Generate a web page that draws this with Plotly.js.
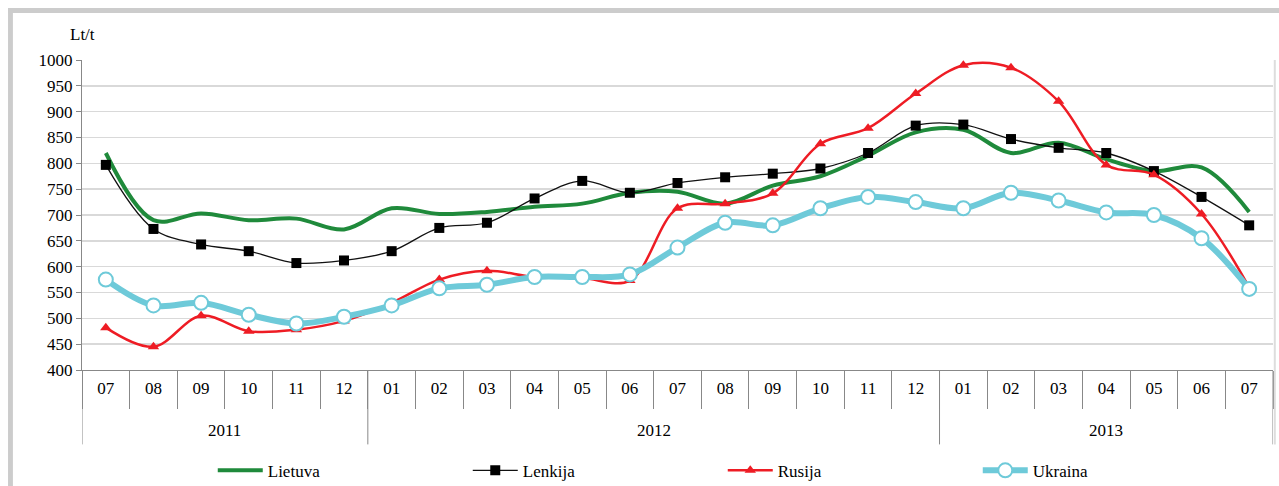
<!DOCTYPE html>
<html>
<head>
<meta charset="utf-8">
<script src="https://cdn.plot.ly/plotly-3.0.1.min.js"></script>
<style>html,body{margin:0;padding:0;background:#fff;}#chart{width:1279px;height:486px;}</style>
</head>
<body>
<div id="chart"></div>
<script>
const years  = ['2011','2011','2011','2011','2011','2011',
                '2012','2012','2012','2012','2012','2012','2012','2012','2012','2012','2012','2012',
                '2013','2013','2013','2013','2013','2013','2013'];
const months = ['07','08','09','10','11','12',
                '01','02','03','04','05','06','07','08','09','10','11','12',
                '01','02','03','04','05','06','07'];
const yearLabels = ['2011','2012','2013'];
const lietuva = [820,690,703,690,693,672,713,702,706,716,722,743,745,722,757,775,815,860,865,820,840,808,785,792,706];
const lenkija = [797,673,643,630,607,612,630,675,685,732,766,743,762,773,780,790,820,873,875,847,830,820,785,735,680];
const rusija  = [482,445,505,475,478,495,530,575,592,580,578,573,713,722,742,838,868,935,990,985,920,797,778,702,560];
const ukraina = [575,525,530,507,490,503,525,558,565,580,580,585,637,685,680,713,735,725,713,743,728,705,700,655,557];
const names = ['Lietuva','Lenkija','Rusija','Ukraina'];

const FONT = '"Liberation Serif", Tinos, "DejaVu Serif", "Noto Serif", "Times New Roman", serif';
// unique category keys built from year + month
const keys = years.map((y, i) => y + '-' + months[i]);

const traces = [
  {name: names[0], x: keys, y: lietuva, type: 'scatter', mode: 'lines',
   line: {color: '#1f8a3b', width: 4, shape: 'spline', smoothing: 1}},
  {name: names[1], x: keys, y: lenkija, type: 'scatter', mode: 'lines+markers',
   line: {color: '#111111', width: 1.3, shape: 'spline', smoothing: 1},
   marker: {symbol: 'square', size: 10, color: '#000000'}},
  {name: names[2], x: keys, y: rusija, type: 'scatter', mode: 'lines+markers',
   line: {color: '#ee1c24', width: 2.5, shape: 'spline', smoothing: 1},
   marker: {symbol: 'triangle-up', size: 10, color: '#ee1c24'}},
  {name: names[3], x: keys, y: ukraina, type: 'scatter', mode: 'lines+markers',
   line: {color: '#6ecad9', width: 6, shape: 'spline', smoothing: 1},
   marker: {symbol: 'circle', size: 14, color: '#ffffff', line: {color: '#6ecad9', width: 2}}}
];

// year group labels and dividers, positioned on the category axis
const annotations = [
  {text: 'Lt/t', xref: 'paper', yref: 'paper', x: -0.012, y: 1.0, yshift: 14, xanchor: 'left', yanchor: 'bottom',
   showarrow: false, font: {family: FONT, size: 17}}
];
const shapes = [
  {type: 'rect', xref: 'paper', yref: 'paper', x0: -0.0621, x1: -0.058, y0: -0.4, y1: 1.1677, line: {width: 0}, fillcolor: '#cccccc'},
  {type: 'rect', xref: 'paper', yref: 'paper', x0: -0.0621, x1: 1.01, y0: 1.1516, y1: 1.1677, line: {width: 0}, fillcolor: '#cccccc'},
  {type: 'line', xref: 'paper', yref: 'paper', x0: 1.0015, x1: 1.0015, y0: -0.24, y1: 1.0, line: {color: '#dddddd', width: 2}}
];
let start = 0;
yearLabels.forEach((yr) => {
  const n = years.filter(v => v === yr).length;
  const mid = start + (n - 1) / 2;
  annotations.push({text: yr, xref: 'x', yref: 'paper', x: mid, y: -0.195, xanchor: 'center', yanchor: 'middle',
    showarrow: false, font: {family: FONT, size: 17}});
  shapes.push({type: 'line', xref: 'x', yref: 'paper', x0: start - 0.5, x1: start - 0.5, y0: 0, y1: -0.24,
    line: {color: '#888', width: 1}});
  start += n;
});
shapes.push({type: 'line', xref: 'x', yref: 'paper', x0: start - 0.5, x1: start - 0.5, y0: 0, y1: -0.24,
  line: {color: '#888', width: 1}});

const layout = {
  width: 1279, height: 486,
  margin: {l: 82, r: 6, t: 60, b: 116, autoexpand: false},
  paper_bgcolor: '#ffffff', plot_bgcolor: '#ffffff',
  font: {family: FONT, size: 17, color: '#000'},
  showlegend: true,
  legend: {orientation: 'h', x: 0.538, xanchor: 'center', y: -0.325, yanchor: 'middle',
           font: {family: FONT, size: 17}, entrywidth: 195, entrywidthmode: 'pixels', itemwidth: 45},
  xaxis: {type: 'category', categoryorder: 'array', categoryarray: keys,
          tickmode: 'array', tickvals: keys, ticktext: months,
          range: [-0.5, keys.length - 0.5],
          showgrid: false, showline: true, linecolor: '#888', linewidth: 1,
          ticks: 'outside', tickson: 'boundaries', ticklen: 38, tickcolor: '#888',
          ticklabelstandoff: 3,
          tickfont: {family: FONT, size: 17}, zeroline: false},
  yaxis: {range: [400, 1000], dtick: 50, showgrid: true, gridcolor: '#d9d9d9', gridwidth: 1.5,
          showline: true, linecolor: '#888', ticks: 'outside', ticklen: 5, tickcolor: '#888',
          tickfont: {family: FONT, size: 17}, zeroline: false},
  annotations: annotations,
  shapes: shapes
};

Plotly.newPlot('chart', traces, layout, {displayModeBar: false, staticPlot: true});
</script>
</body>
</html>
